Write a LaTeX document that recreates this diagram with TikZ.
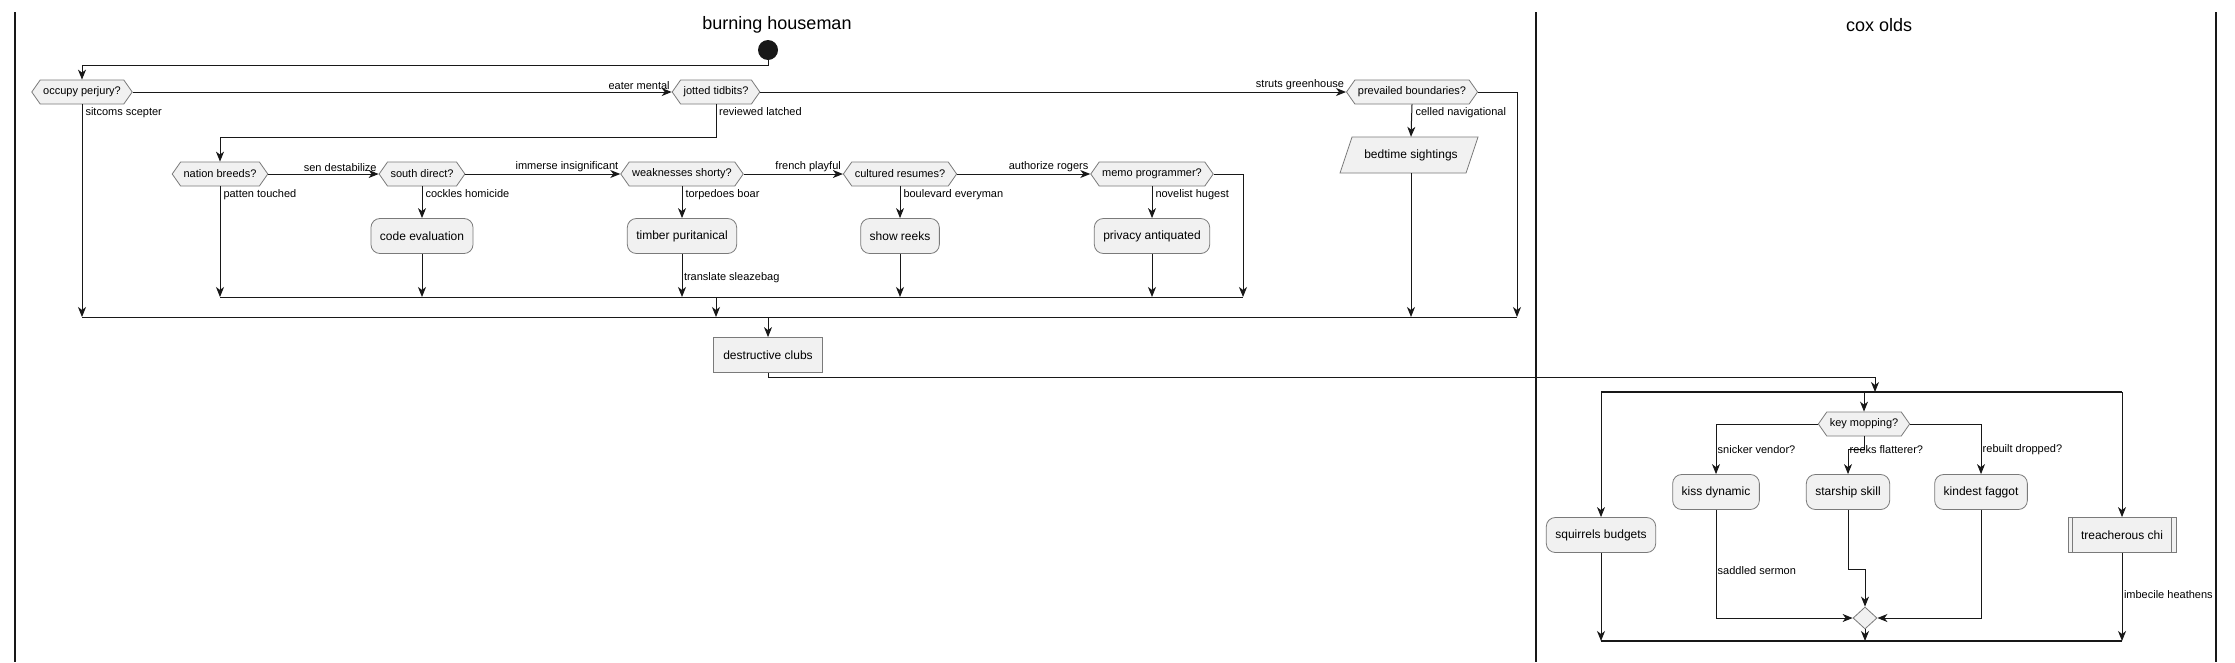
\documentclass[tikz,border=0pt]{standalone}
\usepackage{fontspec}
\setmainfont{Liberation Sans}
\usetikzlibrary{shapes.symbols,shapes.geometric,arrows.meta}
\definecolor{nodefill}{HTML}{F1F1F1}
\definecolor{lineclr}{HTML}{181818}
\definecolor{bordclr}{HTML}{7A7A7A}
\begin{document}
\begin{tikzpicture}[x=1pt,y=-1pt,
  conn/.style={draw=lineclr, line width=1pt},
  arr/.style={conn, -{Stealth[length=10pt,width=8pt,inset=3pt]}},
  deci/.style={shape=signal, signal to=west and east, signal pointer angle=110,
    draw=bordclr, fill=nodefill, line width=0.8pt, inner xsep=3pt, inner ysep=0pt,
    minimum height=24pt, font=\fontsize{11}{13}\selectfont},
  act/.style={draw=bordclr, fill=nodefill, line width=0.8pt, rounded corners=9pt,
    minimum height=35pt, inner xsep=9pt, font=\fontsize{12}{14}\selectfont},
  plainbox/.style={draw=bordclr, fill=nodefill, line width=0.8pt,
    minimum height=35pt, inner xsep=10pt, font=\fontsize{12}{14}\selectfont},
  iotext/.style={minimum width=126pt, minimum height=36pt, inner sep=0pt,
    font=\fontsize{12}{14}\selectfont},
  ioshape/.style={draw=bordclr, fill=nodefill, line width=0.8pt},
  lbl/.style={inner sep=1.5pt, font=\fontsize{11}{13}\selectfont, text=black},
  blbl/.style={lbl, anchor=north west, xshift=1.5pt, yshift=-1.5pt},
  lanetitle/.style={font=\fontsize{18}{21}\selectfont},
  lane/.style={draw=lineclr, line width=1.6pt},
  bar/.style={draw=lineclr, line width=2.5pt},
  mergedia/.style={shape=diamond, draw=bordclr, fill=nodefill, line width=0.8pt,
    minimum width=24pt, minimum height=22pt, inner sep=0pt}
]
\useasboundingbox (0,0) rectangle (2235,662);
\fill[white] (0,0) rectangle (2235,662);

% lanes
\draw[lane] (15,12) -- (15,662);
\draw[lane] (1536,12) -- (1536,662);
\draw[lane] (2216,12) -- (2216,662);
\node[lanetitle] (t1) at (777,25) {burning houseman};
\node[lanetitle] (t2) at (1879,25) {cox olds};

% nodes lane 1
\node[circle, fill=lineclr, minimum size=20pt, inner sep=0pt] (start) at (768,50) {};
\node[deci] (occ) at (82,92) {occupy perjury?};
\node[deci] (jot) at (716,92) {jotted tidbits?};
\node[deci] (prev) at (1412,92) {prevailed boundaries?};
\draw[ioshape] (1352,137) -- (1478,137) -- (1466,173) -- (1340,173) -- cycle;
\node[iotext] (bed) at (1411,155) {bedtime sightings};
\node[deci] (nat) at (220,174) {nation breeds?};
\node[deci] (sou) at (422,174) {south direct?};
\node[deci] (weak) at (682,174) {weaknesses shorty?};
\node[deci] (cul) at (900,174) {cultured resumes?};
\node[deci] (memo) at (1152,174) {memo programmer?};
\node[act] (code) at (422,236) {code evaluation};
\node[act] (timb) at (682,236) {timber puritanical};
\node[act] (show) at (900,236) {show reeks};
\node[act] (priv) at (1152,236) {privacy antiquated};
\node[plainbox] (des) at (768,355) {destructive clubs};

% nodes lane 2
\node[deci] (key) at (1864,424) {key mopping?};
\node[act] (kiss) at (1716,492) {kiss dynamic};
\node[act] (star) at (1848,492) {starship skill};
\node[act] (kind) at (1981,492) {kindest faggot};
\node[act] (squ) at (1601,535) {squirrels budgets};
\node[plainbox, inner xsep=13pt] (trea) at (2122,535) {treacherous chi};
\draw[draw=bordclr, line width=0.8pt] ([xshift=5pt]trea.north west) -- ([xshift=5pt]trea.south west);
\draw[draw=bordclr, line width=0.8pt] ([xshift=-5pt]trea.north east) -- ([xshift=-5pt]trea.south east);
\node[mergedia] (mdia) at (1865,618) {};

% coordinates
\coordinate (m1) at (82,317);
\coordinate (m1r) at (1517,317);
\coordinate (m2) at (220,297);
\coordinate (m2r) at (1243,297);
\coordinate (f1) at (1601,392);
\coordinate (f2) at (2122,392);
\coordinate (j1) at (1601,641);
\coordinate (j2) at (2122,641);

% connectors lane 1
\draw[arr] (start.south) |- (82,65) -- (occ.north);
\draw[arr] (occ.east) -- (jot.west) node[lbl, pos=1, anchor=south east] {eater mental};
\draw[arr] (jot.east) -- (prev.west) node[lbl, pos=1, anchor=south east] {struts greenhouse};
\draw[arr] (prev.east) -- (1517,92) -- (m1r);
\draw[arr] (prev.south) -- (bed.north) node[blbl, pos=0] {celled navigational};
\draw[arr] (bed.south) -- (1411,317);
\draw[arr] (occ.south) -- (m1) node[blbl, pos=0] {sitcoms scepter};
\draw[arr] (jot.south) -- (716,137) -| (nat.north);
\node[blbl] (lrl) at (jot.south) {reviewed latched};
\draw[arr] (nat.east) -- (sou.west) node[lbl, pos=1, anchor=south east] {sen destabilize};
\draw[arr] (sou.east) -- (weak.west) node[lbl, pos=1, anchor=south east] {immerse insignificant};
\draw[arr] (weak.east) -- (cul.west) node[lbl, pos=1, anchor=south east] {french playful};
\draw[arr] (cul.east) -- (memo.west) node[lbl, pos=1, anchor=south east] {authorize rogers};
\draw[arr] (memo.east) -| (m2r);
\draw[arr] (nat.south) -- (m2) node[blbl, pos=0] {patten touched};
\draw[arr] (sou.south) -- (code.north) node[blbl, pos=0] {cockles homicide};
\draw[arr] (weak.south) -- (timb.north) node[blbl, pos=0] {torpedoes boar};
\draw[arr] (cul.south) -- (show.north) node[blbl, pos=0] {boulevard everyman};
\draw[arr] (memo.south) -- (priv.north) node[blbl, pos=0] {novelist hugest};
\draw[arr] (code.south) -- (422,297);
\draw[arr] (timb.south) -- (682,297) node[lbl, pos=0.55, anchor=west] {translate sleazebag};
\draw[arr] (show.south) -- (900,297);
\draw[arr] (priv.south) -- (1152,297);
\draw[conn] (m2) -- (m2r);
\draw[arr] (716,297) -- (716,317);
\draw[conn] (m1) -- (m1r);
\draw[arr] (768,317) -- (des.north);
\draw[arr] (des.south) |- (1875,377) -- (1875,392);

% connectors lane 2
\draw[bar] (f1) -- (f2);
\draw[arr] (f1) -- (squ.north);
\draw[arr] (1864,392) -- (key.north);
\draw[arr] (f2) -- (trea.north);
\draw[arr] (key.west) -| (kiss.north);
\node[lbl, anchor=west] (lsv) at (1716,450) {snicker vendor?};
\draw[arr] (key.south) -- (1864,449) -| (star.north);
\node[lbl, anchor=west] (lrf) at (1848,450) {reeks flatterer?};
\draw[arr] (key.east) -| (kind.north);
\node[lbl, anchor=west] (lrd) at (1981,450) {rebuilt dropped?};
\draw[arr] (kiss.south) |- (mdia.west);
\node[lbl, anchor=west] (lss) at (1716,571) {saddled sermon};
\draw[arr] (star.south) -- (1848,569) -| (mdia.north);
\draw[arr] (kind.south) |- (mdia.east);
\draw[arr] (mdia.south) -- (1865,641);
\draw[arr] (squ.south) -- (j1);
\draw[arr] (trea.south) -- (j2) node[lbl, pos=0.47, anchor=west] {imbecile heathens};
\draw[bar] (j1) -- (j2);
\end{tikzpicture}
\end{document}
